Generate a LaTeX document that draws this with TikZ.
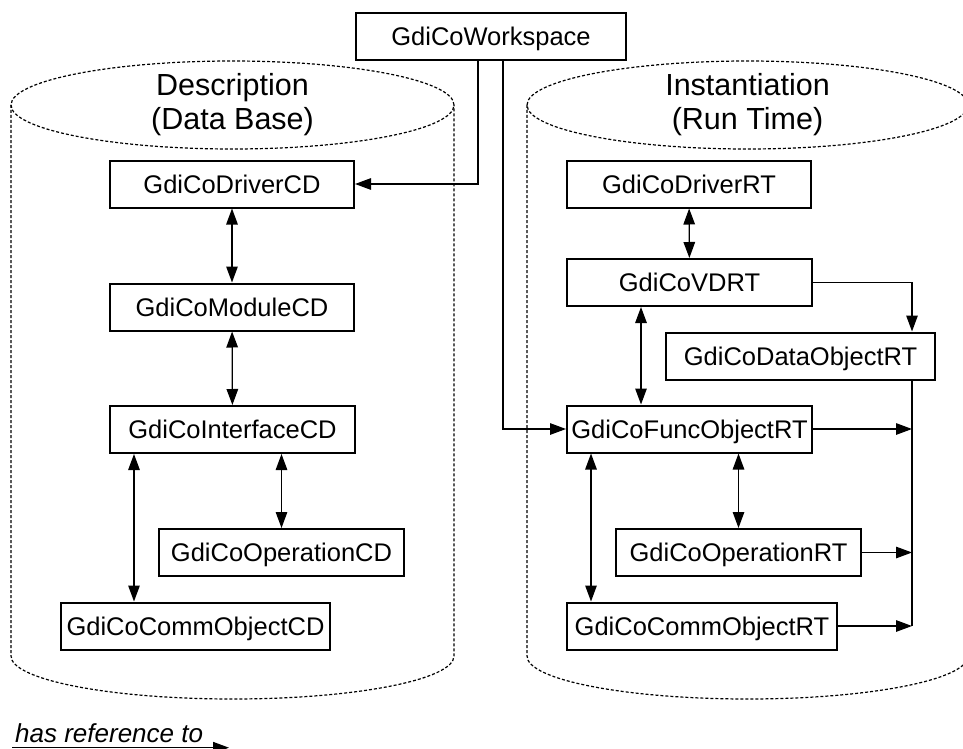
\documentclass[tikz,border=0pt]{standalone}
\usepackage{fontspec}
\setmainfont{Liberation Sans}
\usetikzlibrary{arrows.meta}

\tikzset{
  cls/.style={draw, line width=2pt, fill=white, inner sep=0pt,
    minimum height=47pt, text height=18.3pt, text depth=0pt,
    font=\fontsize{25.5}{30}\selectfont},
  title/.style={anchor=base, inner sep=0pt, font=\fontsize{30.5}{34}\selectfont},
  cyl/.style={line width=1.2pt, dash pattern=on 3pt off 2pt},
  ref/.style={line width=1.3pt, -{Triangle[length=16pt,width=11.5pt]}},
  both/.style={line width=1.3pt, {Triangle[length=16pt,width=11.5pt]}-{Triangle[length=16pt,width=11.5pt]}},
  bar/.style={line width=2pt},
}

\begin{document}
\begin{tikzpicture}[x=1pt,y=-1pt]
\useasboundingbox (0,0) rectangle (963,749);

% two data-store cylinders
\draw[cyl] (232.5,105) ellipse[x radius=221.5pt, y radius=44pt];
\draw[cyl] (11,105) -- (11,656)
  arc[start angle=180, end angle=360, x radius=221.5pt, y radius=43pt] -- (454,105);
\draw[cyl] (747.5,105) ellipse[x radius=220.5pt, y radius=44pt];
\draw[cyl] (527,105) -- (527,656)
  arc[start angle=180, end angle=360, x radius=220.5pt, y radius=43pt] -- (968,105);

\node[title] (descA) at (232.5,96) {Description};
\node[title] (descB) at (232.5,130) {(Data Base)};
\node[title] (instA) at (747.5,96) {Instantiation};
\node[title] (instB) at (747.5,130) {(Run Time)};

% classes
\node[cls, minimum width=270pt] (ws)  at (491,36.5)  {GdiCoWorkspace};

\node[cls, minimum width=244pt] (dcd) at (232,184)   {GdiCoDriverCD};
\node[cls, minimum width=244pt] (mcd) at (232,307)   {GdiCoModuleCD};
\node[cls, minimum width=245pt] (icd) at (232.5,429.5) {GdiCoInterfaceCD};
\node[cls, minimum width=245pt] (ocd) at (281.5,552.5) {GdiCoOperationCD};
\node[cls, minimum width=269pt] (ccd) at (195.5,626) {GdiCoCommObjectCD};

\node[cls, minimum width=244pt] (drt) at (689,184)   {GdiCoDriverRT};
\node[cls, minimum width=245pt] (vd)  at (689.5,282.5) {GdiCoVDRT};
\node[cls, minimum width=269pt] (dor) at (800.5,356) {GdiCoDataObjectRT};
\node[cls, minimum width=245pt] (fo)  at (689.5,429) {GdiCoFuncObjectRT};
\node[cls, minimum width=245pt] (ort) at (738.5,552.5) {GdiCoOperationRT};
\node[cls, minimum width=270pt] (crt) at (702,626)   {GdiCoCommObjectRT};

% workspace references
\draw[ref] ([xshift=-13pt]ws.south) |- (dcd.east);
\draw[ref] ([xshift=12pt]ws.south) |- (fo.west);

% description side
\draw[both] (dcd) -- (mcd);
\draw[both] (mcd) -- (icd);
\draw[both] ([xshift=-98.5pt]icd.south) -- ([xshift=-98.5pt]icd.south |- ccd.north);
\draw[both] (ocd.north |- icd.south) -- (ocd.north);

% run-time side
\draw[both] (drt) -- (vd);
\draw[both] ([xshift=-48.5pt]vd.south) -- ([xshift=-48.5pt]vd.south |- fo.north);
\draw[both] (ort.north |- fo.south) -- (ort.north);
\draw[both] ([xshift=-98.5pt]fo.south) -- ([xshift=-98.5pt]fo.south |- crt.north);

\coordinate (bus) at ([xshift=111.5pt]dor.south);
\draw[ref] (vd.east) -| ([xshift=111.5pt]dor.north);
\draw[bar] (bus) -- (bus |- crt.east);
\draw[ref] (fo.east) -- (fo.east -| bus);
\draw[ref] (ort.east) -- (ort.east -| bus);
\draw[ref] (crt.east) -- (crt.east -| bus);

% legend
\node[anchor=base west, inner sep=0pt, font=\fontsize{26}{30}\selectfont\itshape] (legend) at (15,742) {has reference to};
\coordinate (legA) at (12,747.7);
\coordinate (legB) at (229,747.7);
\draw[ref] (legA) -- (legB);
\end{tikzpicture}
\end{document}
